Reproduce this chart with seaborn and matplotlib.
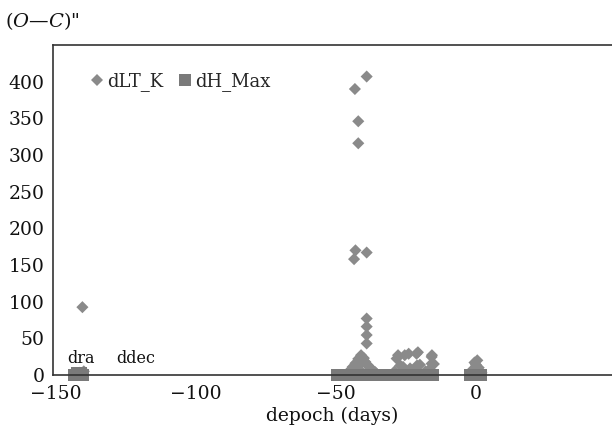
import numpy as np
import pandas as pd
import matplotlib
matplotlib.use("Agg")
import matplotlib.pyplot as plt
import seaborn as sns

# ====================== DATA ======================

# dLT_K (diamonds)
dlt_x = [-140.5, -141.5, -140.0, -142.0,
         -39.0, -43.2, -42.0, -42.0, -43.0, -43.5, -39.0,
         -39.0, -39.0, -39.0, -39.0,
         -46.0, -45.0, -44.0, -43.0, -42.0, -41.0, -40.0, -39.5, -38.5, -37.5, -36.5, -35.5,
         -44.5, -43.0, -41.5, -40.5, -38.0, -36.0, -42.0, -41.0,
         -28.3, -25.4, -21.2, -15.8, -27.0, -21.0, -15.8, -27.8, -24.0, -20.7, -15.7,
         -26.0, -20.0, -15.0, -29.0, -25.0, -22.0, -18.0, -16.5, -23.5,
         -2.0, -1.0, 0.0, 0.5, 1.0, 2.0, -1.5, 1.5, -0.5]
dlt_y = [92.5, 3.0, 5.0, 2.0,
         407.0, 390.0, 346.0, 316.0, 170.0, 158.0, 167.0,
         77.0, 66.0, 54.5, 43.0,
         2.0, 6.0, 11.0, 16.0, 22.0, 27.0, 23.0, 18.0, 13.0, 9.0, 5.0, 2.0,
         3.0, 8.0, 14.0, 19.0, 10.0, 4.0, 9.0, 16.0,
         22.4, 27.0, 29.0, 24.7, 13.0, 13.0, 15.5, 27.0, 29.0, 31.0, 27.0,
         11.0, 14.0, 15.0, 5.0, 6.0, 4.0, 5.0, 8.0, 9.0,
         2.0, 8.0, 14.0, 20.0, 10.0, 3.0, 4.0, 5.0, 17.0]

# dH_Max (squares)
dh_x = [-143.2, -142.2, -141.2, -140.3,
        -49.6, -48.0, -46.4, -44.8, -43.2, -41.6, -40.0, -38.4, -36.8, -35.2, -33.2,
        -28.6, -27.0, -25.4, -23.8, -22.2, -20.6, -19.0, -17.4, -15.4,
        -2.1, -0.8, 0.5, 1.8]
dh_y = [0.0, 1.5, 2.5, 0.0,
        0.0, 0.0, 0.0, 0.0, 0.0, 0.0, 0.0, 0.0, 0.0, 0.0, 0.0,
        0.0, 0.0, 0.0, 0.0, 0.0, 0.0, 0.0, 0.0, 0.0,
        0.0, 0.0, 0.0, 0.0]

x_ticks = [-150, -100, -50, 0]
y_ticks = [0, 50, 100, 150, 200, 250, 300, 350, 400]

# ====================== PLOT ======================

sns.set_style("white")
plt.rcParams['font.family'] = ['DejaVu Serif']
plt.rcParams['mathtext.fontset'] = 'dejavuserif'

df = pd.concat([
    pd.DataFrame({'x': dlt_x, 'y': dlt_y, 'series': 'dLT_K'}),
    pd.DataFrame({'x': dh_x, 'y': dh_y, 'series': 'dH_Max'}),
], ignore_index=True)

fig = plt.figure(figsize=(6.12, 4.46), dpi=100)
ax = fig.add_axes([53 / 612, 1 - 375 / 446, 1 - 53 / 612, (375 - 45) / 446])

sns.scatterplot(data=df, x='x', y='y', hue='series', style='series',
                markers={'dLT_K': 'D', 'dH_Max': 's'},
                palette={'dLT_K': '#8a8a8a', 'dH_Max': '#7a7a7a'},
                size='series', sizes={'dLT_K': 38, 'dH_Max': 85},
                linewidth=0, clip_on=False, ax=ax)

ax.set_xlim(-151, 48.6)
ax.set_ylim(0, 450)
ax.set_xticks(x_ticks)
ax.set_yticks(y_ticks)
ax.tick_params(axis='y', direction='in', length=5, width=1, pad=6,
               labelsize=13.5, colors='#222222', labelcolor='#111111')
ax.tick_params(axis='x', length=0, pad=7, labelsize=13.5, labelcolor='#111111')
for side in ['left', 'bottom', 'top']:
    ax.spines[side].set_color('#333333')
    ax.spines[side].set_linewidth(1.2)
ax.spines['right'].set_visible(False)

ax.set_xlabel('depoch (days)', fontsize=13.5, labelpad=3, color='#111111')
ax.set_ylabel('')

fig.text(5 / 612, 1 - 21 / 446, '($O$\u2014$C$)"', fontsize=14,
         va='center', ha='left', color='#111111')

ax.text(-141, 22, 'dra', fontsize=11.5, ha='center', va='center', color='#111111')
ax.text(-121.4, 22, 'ddec', fontsize=11.5, ha='center', va='center', color='#111111')

handles, labels = ax.get_legend_handles_labels()
ax.legend(handles, labels, loc='center left', bbox_to_anchor=(0.05, 0.89),
          ncol=2, frameon=False, fontsize=13, handletextpad=0.05,
          columnspacing=0.7, handlelength=1.0, borderaxespad=0)

plt.savefig('out.png', dpi=100)
